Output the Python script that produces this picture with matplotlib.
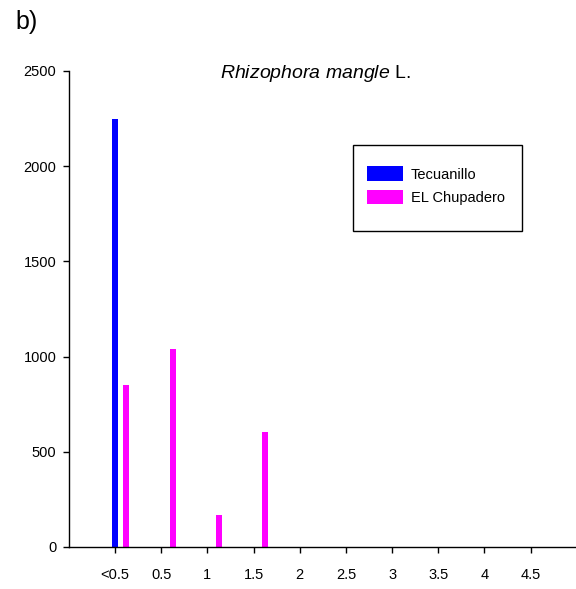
import numpy as np
import matplotlib
matplotlib.use('Agg')
import matplotlib.pyplot as plt
from matplotlib.patches import Rectangle

plt.rcParams['font.family'] = ['Liberation Sans', 'DejaVu Sans']
plt.rcParams['mathtext.fontset'] = 'custom'
plt.rcParams['mathtext.it'] = 'Liberation Sans:italic'
plt.rcParams['mathtext.rm'] = 'Liberation Sans'

# Data
categories = ['<0.5', '0.5', '1', '1.5', '2', '2.5', '3', '3.5', '4', '4.5']
tecuanillo = [2250, 0, 0, 0, 0, 0, 0, 0, 0, 0]
chupadero = [850, 1040, 170, 605, 0, 0, 0, 0, 0, 0]

x = np.arange(len(categories))
bar_w = 0.13
offset = 0.245

W, H = 576, 589
fig = plt.figure(figsize=(W / 100, H / 100), dpi=100)
ax = fig.add_axes([69.3 / W, 42 / H, (575 - 69.3) / W, 476 / H])

ax.bar(x, tecuanillo, width=bar_w, color='#0000FF', label='Tecuanillo')
ax.bar(x + offset, chupadero, width=bar_w, color='#FF00FF', label='EL Chupadero')

ax.set_xlim(-0.99, 9.96)
ax.set_ylim(0, 2500)
ax.set_yticks(np.arange(0, 2501, 500))
ax.set_xticks(x)
ax.set_xticklabels(categories)

for s in ['top', 'right']:
    ax.spines[s].set_visible(False)
for s in ['left', 'bottom']:
    ax.spines[s].set_linewidth(1.0)
    ax.spines[s].set_color('black')

ax.tick_params(axis='y', direction='out', length=4.3, width=1, pad=5, labelsize=10.5)
ax.tick_params(axis='x', direction='out', length=4.3, width=1, pad=11, labelsize=10.5)

# legend entries without frame, box drawn separately
leg = ax.legend(loc='upper left', bbox_to_anchor=(367 / W, 1 - 166.5 / H),
                bbox_transform=fig.transFigure, borderaxespad=0, fontsize=10.5,
                handlelength=2.5, handleheight=1.15, handletextpad=0.5,
                labelspacing=0.56, borderpad=0, frameon=False)
fig.patches.append(Rectangle((353 / W, 1 - 231 / H), (522 - 353) / W, (231 - 145) / H,
                             transform=fig.transFigure, fill=False,
                             edgecolor='black', linewidth=1.0))

fig.text(315 / W, 1 - 77.7 / H, r'$\mathit{Rhizophora\ mangle}$ L.',
         ha='center', va='baseline', fontsize=14)
fig.text(15 / W, 1 - 29 / H, 'b)', ha='left', va='baseline', fontsize=18)

fig.savefig('out.png', dpi=100)
